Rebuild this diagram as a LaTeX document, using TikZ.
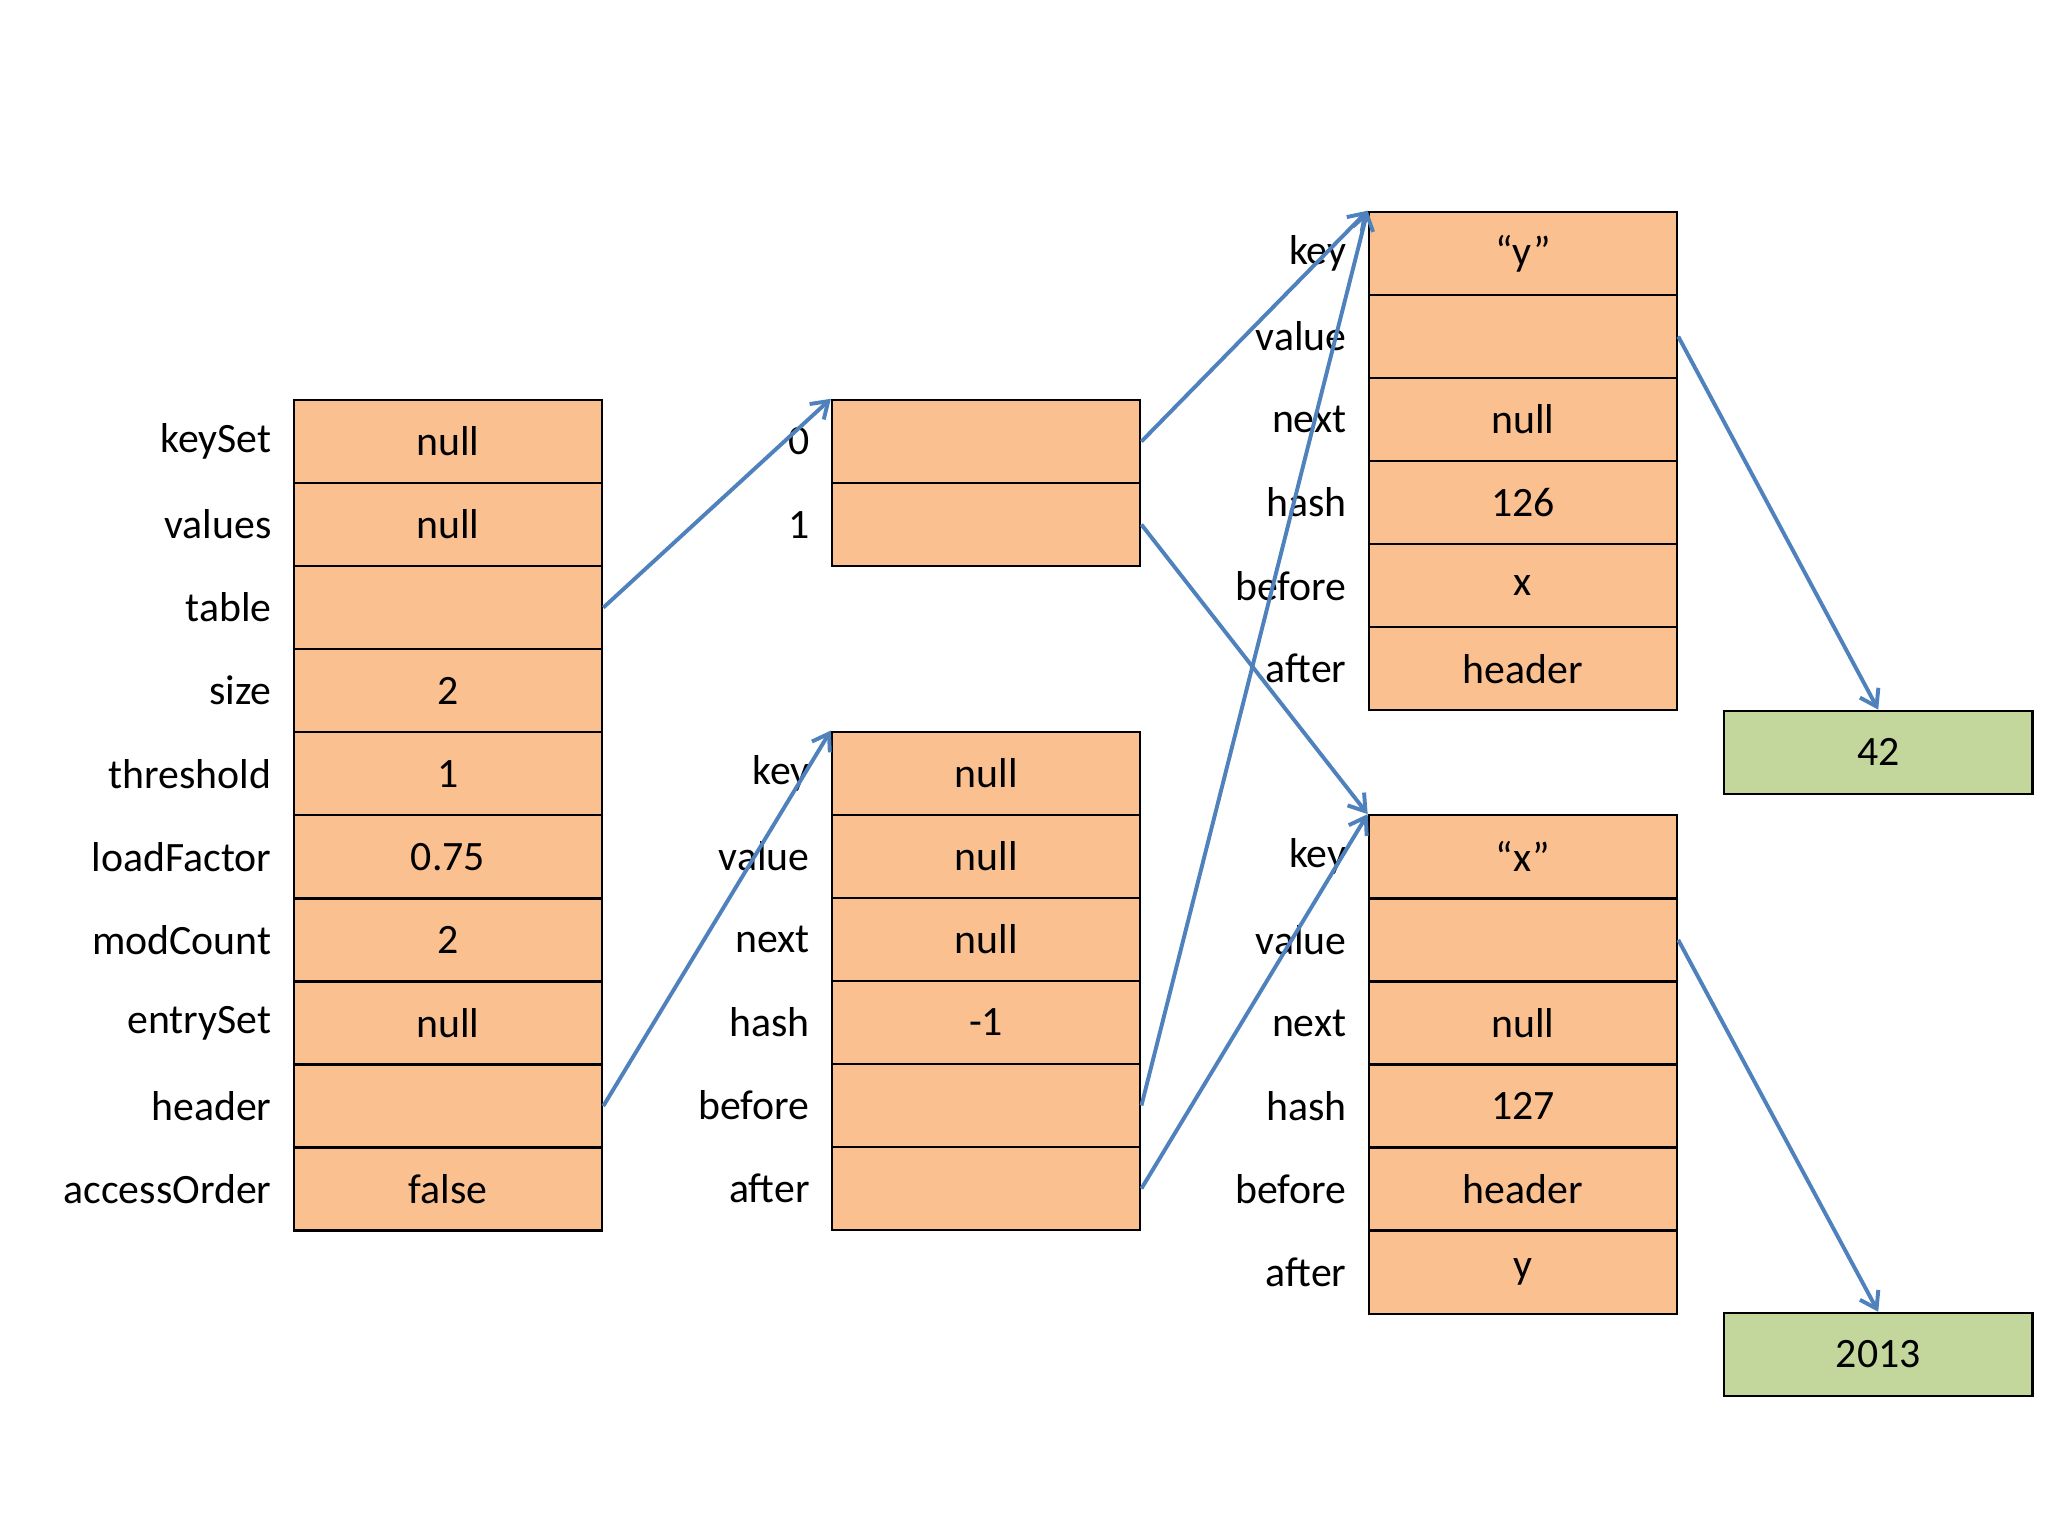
\documentclass[tikz,border=0pt]{standalone}
\usepackage{fontspec}
\setmainfont{Carlito}
\usetikzlibrary{arrows.meta}
\definecolor{cellfill}{HTML}{FAC090}
\definecolor{greenfill}{HTML}{C3D69B}
\definecolor{arrowblue}{HTML}{4F81BD}
\begin{document}
\begin{tikzpicture}[x=1pt,y=-1pt,
  cell/.style={draw=black,line width=1.8pt,fill=cellfill,minimum width=236pt,minimum height=63.6pt,inner sep=0pt,font=\fontsize{32}{36}\selectfont},
  gcell/.style={cell,fill=greenfill},
  lab/.style={anchor=east,inner sep=0pt,font=\fontsize{32}{36}\selectfont},
  ptr/.style={draw=arrowblue,line width=3pt,-{Straight Barb[length=12pt,width=16pt,line width=3pt]}}]
\useasboundingbox (0,0) rectangle (1568,1176);
% main map object
\foreach \lab/\val [count=\i from 0] in {keySet/null,values/null,table/{},size/2,threshold/1,loadFactor/0.75,modCount/2,entrySet/null,header/{},accessOrder/false}{
  \node[cell] (m\i) at (343,{338+63.6*\i}) {\val};
  \node[lab] (ml\i) at (208,{338+63.6*\i}) {\lab};
}
% table array
\foreach \lab [count=\i from 0] in {0,1}{
  \node[cell] (t\i) at (755,{338+63.6*\i}) {};
  \node[lab] (tl\i) at (620,{338+63.6*\i}) {\lab};
}
% header entry
\foreach \lab/\val [count=\i from 0] in {key/null,value/null,next/null,hash/-1,before/{},after/{}}{
  \node[cell] (h\i) at (755,{592+63.6*\i}) {\val};
  \node[lab] (hl\i) at (620,{592+63.6*\i}) {\lab};
}
% entry y
\foreach \lab/\val [count=\i from 0] in {key/“y”,value/{},next/null,hash/126,before/x,after/header}{
  \node[cell] (y\i) at (1166,{194+63.6*\i}) {\val};
  \node[lab] (yl\i) at (1031,{194+63.6*\i}) {\lab};
}
% entry x
\foreach \lab/\val [count=\i from 0] in {key/“x”,value/{},next/null,hash/127,before/header,after/y}{
  \node[cell] (x\i) at (1166,{656+63.6*\i}) {\val};
  \node[lab] (xl\i) at (1031,{656+63.6*\i}) {\lab};
}
\node[gcell] (g42) at (1438,576) {42};
\node[gcell] (g2013) at (1438,1037) {2013};
% pointers
\draw[ptr] (m2.east) -- (t0.north west);
\draw[ptr] (m8.east) -- (h0.north west);
\draw[ptr] (t0.east) -- (y0.north west);
\draw[ptr] (t1.east) -- (x0.north west);
\draw[ptr] (h4.east) -- (y0.north west);
\draw[ptr] (h5.east) -- (x0.north west);
\draw[ptr] (y1.east) -- (g42.north);
\draw[ptr] (x1.east) -- (g2013.north);
\end{tikzpicture}
\end{document}
